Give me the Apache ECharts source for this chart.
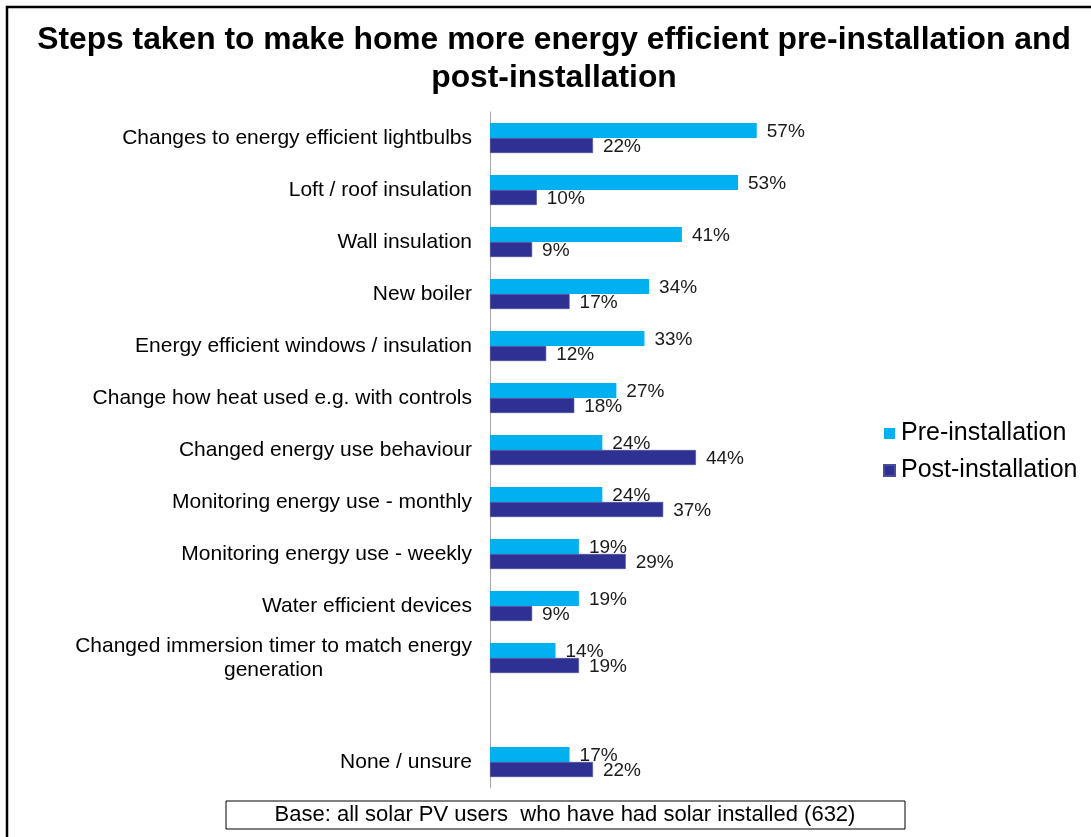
<!DOCTYPE html>
<html>
<head>
<meta charset="utf-8">
<script src="https://cdn.jsdelivr.net/npm/echarts@6/dist/echarts.min.js"></script>
<style>
  html, body { margin: 0; padding: 0; background: #ffffff; }
  #chart { width: 1091px; height: 837px; }
</style>
</head>
<body>
<div id="chart"></div>
<script>
// Survey responses: steps taken to improve home energy efficiency (%)
const categories = [
  'Changes to energy efficient lightbulbs',
  'Loft / roof insulation',
  'Wall insulation',
  'New boiler',
  'Energy efficient windows / insulation',
  'Change how heat used e.g. with controls',
  'Changed energy use behaviour',
  'Monitoring energy use - monthly',
  'Monitoring energy use - weekly',
  'Water efficient devices',
  'Changed immersion timer to match energy\ngeneration',
  '',
  'None / unsure'
];
const preInstallation  = [57, 53, 41, 34, 33, 27, 24, 24, 19, 19, 14, null, 17];
const postInstallation = [22, 10,  9, 17, 12, 18, 44, 37, 29,  9, 19, null, 22];
const seriesNames = ['Pre-installation', 'Post-installation'];
const baseNote = 'Base: all solar PV users  who have had solar installed (632)';

const chart = echarts.init(document.getElementById('chart'));
const FONT = '"Liberation Sans", Arial, sans-serif';

const valueLabel = {
  show: true,
  position: 'right',
  distance: 10,
  formatter: p => p.value == null ? '' : p.value + '%',
  fontFamily: FONT,
  fontSize: 19,
  color: '#1a1a1a'
};

chart.setOption({
  backgroundColor: '#ffffff',
  animation: false,
  title: {
    text: 'Steps taken to make home more energy efficient pre-installation and\npost-installation',
    left: 549,
    textAlign: 'center',
    top: 16,
    textStyle: {
      fontFamily: FONT,
      fontSize: 31.8,
      fontWeight: 'bold',
      color: '#000000',
      lineHeight: 38
    }
  },
  legend: {
    orient: 'vertical',
    left: 878,
    top: 416,
    itemWidth: 11,
    itemHeight: 11,
    itemGap: 12,
    icon: 'rect',
    data: seriesNames,
    textStyle: { fontFamily: FONT, fontSize: 25, color: '#000000', padding: [0, 0, 0, 1] }
  },
  grid: { left: 490, top: 112, width: 468, height: 676, containLabel: false },
  xAxis: {
    type: 'value',
    min: 0,
    max: 100,
    show: false
  },
  yAxis: {
    type: 'category',
    data: categories,
    inverse: true,
    axisLine: { show: true, lineStyle: { color: '#a6a6a6', width: 1 } },
    axisTick: { show: false },
    axisLabel: {
      fontFamily: FONT,
      fontSize: 21,
      color: '#000000',
      margin: 18,
      align: 'right',
      lineHeight: 24,
      // wrapped labels: block sits right-aligned, lines are centred within it
      formatter: v => v.indexOf('\n') < 0 ? v : v.split('\n').map(l => '{c|' + l + '}').join('\n'),
      rich: {
        c: { align: 'center', fontFamily: FONT, fontSize: 21, color: '#000000', lineHeight: 24 }
      }
    }
  },
  series: [
    {
      name: seriesNames[0],
      type: 'bar',
      data: preInstallation,
      barWidth: 15,
      barGap: '0%',
      itemStyle: { color: '#00b0f0' },
      label: Object.assign({}, valueLabel, { offset: [0, 1] })
    },
    {
      name: seriesNames[1],
      type: 'bar',
      data: postInstallation,
      barWidth: 15,
      barGap: '0%',
      itemStyle: { color: '#2e3192', borderColor: '#4a4d9e', borderWidth: 0.6 },
      label: Object.assign({}, valueLabel, { offset: [0, 1] })
    }
  ],
  graphic: [
    {
      type: 'rect',
      shape: { x: 7, y: 7, width: 1200, height: 1000 },
      style: { fill: 'none', stroke: '#000000', lineWidth: 2.5 },
      silent: true
    },
    {
      type: 'rect',
      shape: { x: 226, y: 801, width: 679, height: 28 },
      style: { fill: '#ffffff', stroke: '#000000', lineWidth: 1 },
      silent: true
    },
    {
      type: 'text',
      x: 565,
      y: 815,
      style: {
        text: baseNote,
        align: 'center',
        verticalAlign: 'middle',
        fontFamily: FONT,
        fontSize: 22,
        fill: '#000000'
      },
      silent: true
    }
  ]
});
</script>
</body>
</html>
